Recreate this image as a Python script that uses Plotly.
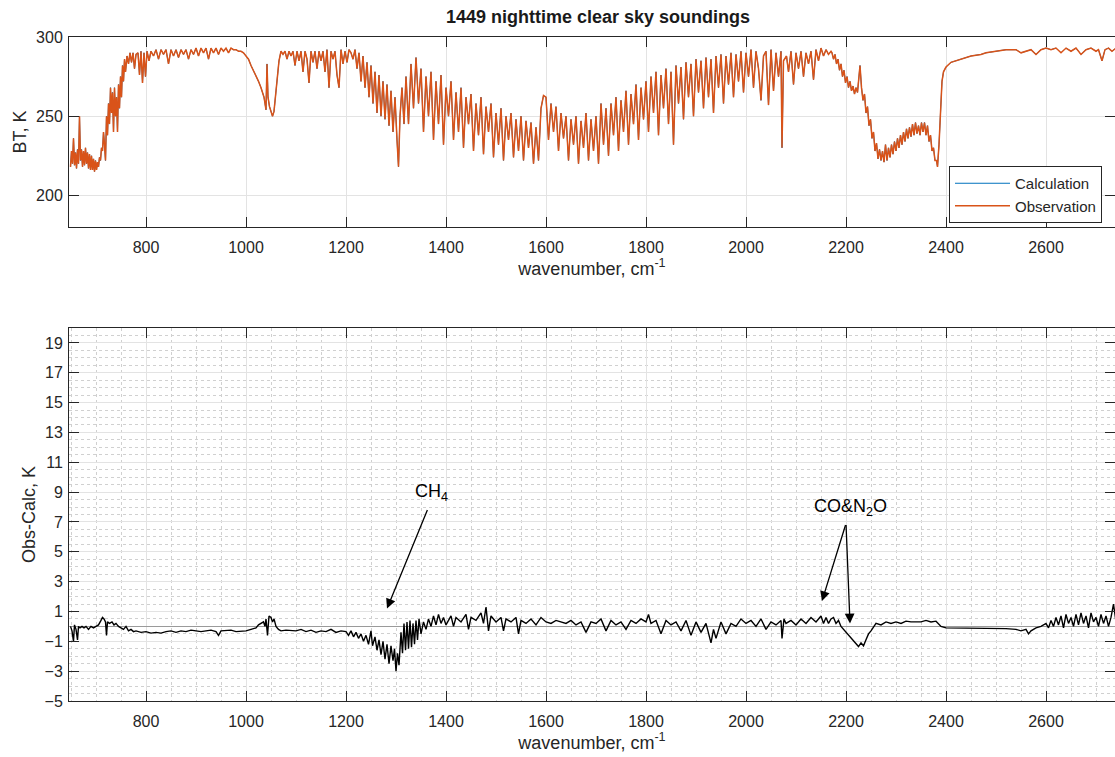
import plotly.graph_objects as go

# ---------------- data ----------------
# Observed brightness temperature spectrum (top panel)
wn_obs = [
    # 649-780 CO2 band edge
    649, 651, 653, 655, 657, 659, 661, 663, 665, 667, 669, 671, 673, 675, 677, 679, 681, 683, 685, 687,
    689, 691, 693, 695, 697, 699, 701, 703, 705, 707, 709, 711, 713, 715, 717, 719, 721, 723, 725, 727,
    729, 731, 733, 735, 737, 739, 741, 743, 745, 747, 749, 751, 753, 755, 757, 759, 762, 765, 768, 771,
    774, 777, 780,
    # 780-1000 window
    784, 787, 790, 793, 796, 799, 802, 806, 810, 815, 820, 825, 830, 835, 840, 845, 850, 855, 860, 865,
    870, 875, 880, 885, 890, 895, 900, 905, 910, 915, 920, 925, 930, 935, 940, 945, 950, 955, 960, 965,
    970, 975, 980, 985, 990, 995, 1000,
    # ozone band
    1005, 1010, 1015, 1020, 1025, 1030, 1033, 1036, 1038, 1040, 1042, 1044, 1047, 1050, 1053, 1056, 1059,
    1062, 1066, 1070,
    # 1070-1210 window
    1074, 1078, 1082, 1086, 1090, 1094, 1098, 1102, 1106, 1110, 1114, 1118, 1122, 1126, 1130, 1134, 1138,
    1142, 1146, 1150, 1154, 1158, 1162, 1166, 1170, 1174, 1178, 1182, 1186, 1190, 1194, 1198, 1202, 1206,
    1210,
    # 1210-1320 CH4 / water edge
    1214, 1218, 1222, 1226, 1230, 1234, 1238, 1242, 1246, 1250, 1254, 1258, 1262, 1266, 1270, 1274, 1278,
    1282, 1286, 1290, 1294, 1298, 1302, 1305, 1308, 1312, 1316,
    # water vapour band
    1320, 1325, 1330, 1335, 1340, 1345, 1350, 1355, 1360, 1365, 1370, 1375, 1380, 1385, 1390, 1395,
    1400, 1405, 1410, 1415, 1420, 1425, 1430, 1435, 1440, 1445, 1450, 1455, 1460, 1465, 1470, 1475,
    1480, 1485, 1490, 1495, 1500, 1505, 1510, 1515, 1520, 1525, 1530, 1535, 1540, 1545, 1550, 1555,
    1560, 1565, 1570, 1575, 1580, 1585,
    1590, 1595, 1600, 1605, 1610, 1615, 1620, 1625, 1630, 1635, 1640, 1645, 1650, 1655, 1660, 1665,
    1670, 1675, 1680, 1685, 1690, 1695, 1700, 1705, 1710, 1715, 1720,
    1725, 1730, 1735, 1740, 1745, 1750, 1755, 1760, 1765, 1770, 1775, 1780, 1785, 1790, 1795, 1800,
    1805, 1810, 1815, 1820, 1825, 1830, 1835, 1840, 1845, 1850, 1855, 1860, 1865, 1870, 1875, 1880,
    1885, 1890, 1895, 1900, 1905, 1910, 1915, 1920, 1925, 1930, 1935, 1940, 1945, 1950, 1955, 1960,
    1965, 1970, 1975, 1980, 1985, 1990, 1995, 2000,
    # 2000-2170
    2005, 2010, 2015, 2020, 2025, 2030, 2035, 2040, 2045, 2050, 2055, 2060, 2065, 2070, 2072, 2075,
    2081, 2085, 2090, 2095, 2100, 2105, 2110, 2115, 2120, 2125, 2130, 2135, 2140, 2145, 2150, 2155,
    2160, 2165, 2170,
    # CO / N2O / CO2 4.3 um band
    2172, 2175, 2178, 2181, 2184, 2187, 2190, 2193, 2196, 2199, 2202, 2205, 2208, 2211, 2214, 2217,
    2220, 2223, 2226, 2228,
    2231, 2234, 2237, 2240, 2243, 2246, 2249, 2252, 2255, 2258, 2261, 2264, 2267, 2270, 2273, 2276,
    2279, 2282, 2285, 2288, 2291, 2294, 2297, 2300, 2303, 2306, 2309, 2312, 2315, 2318, 2321, 2324,
    2327, 2330, 2333, 2336, 2339, 2342, 2345, 2348, 2351, 2354, 2357, 2360, 2363, 2366, 2369, 2372,
    2375, 2378, 2381, 2383, 2386, 2389, 2392, 2395, 2400,
    # shortwave window
    2410, 2420, 2430, 2440, 2450, 2460, 2470, 2480, 2490, 2500, 2510, 2520, 2530, 2540, 2550, 2560,
    2570, 2580, 2590, 2600, 2610, 2620, 2630, 2640, 2650, 2660, 2670, 2680, 2690, 2700, 2705, 2712,
    2718, 2725, 2732, 2740,
]
bt_obs = [
    218, 228, 220, 236, 219, 227, 217, 229, 220, 250, 222, 229, 218, 228, 219, 230, 220, 227, 217, 226,
    216, 225, 216, 223, 215, 222, 216, 221, 218, 224, 222, 230, 228, 240, 232, 222, 250, 238, 258, 245,
    268, 252, 265, 240, 268, 250, 262, 240, 270, 255, 275, 262, 282, 272, 286, 278, 288, 283, 290, 284,
    290, 280, 289,
    290, 276, 291, 271, 290, 275, 291, 285, 291, 288, 292, 286, 292, 289, 292, 283, 292, 288, 292, 287,
    292, 289, 292, 286, 292, 289, 293, 288, 293, 290, 293, 286, 293, 290, 293, 289, 293, 291, 293, 290,
    293, 292, 292, 291, 291, 290, 288,
    286, 282, 279, 276, 272, 268, 265, 262, 258, 254, 283, 262, 256, 252, 250, 253, 262,
    272, 285, 291,
    289, 291, 286, 291, 288, 291, 282, 291, 285, 291, 278, 291, 286, 271, 291, 284, 291,
    280, 291, 285, 291, 278, 292, 268, 291, 286, 291, 276, 268, 292, 283, 291, 284, 292,
    290,
    286, 292, 280, 290, 272, 288, 268, 284, 262, 282, 258, 278, 252, 276, 250, 272, 248,
    270, 244, 266, 240, 262, 235, 218, 250, 268, 245,
    275, 245, 283, 255, 287, 258, 280, 240, 275, 250, 278, 235, 272, 245, 276, 232,
    268, 250, 272, 235, 265, 240, 268, 230, 262, 245, 264, 228, 258, 238, 262, 226,
    256, 240, 258, 224, 252, 232, 255, 222, 250, 235, 252, 224, 248, 228, 250, 222,
    247, 230, 246, 220, 243, 222,
    255, 263, 262, 235, 258, 240, 256, 228, 252, 236, 250, 222, 248, 232, 250, 220,
    247, 230, 252, 222, 248, 228, 250, 220, 258, 232, 255,
    225, 258, 238, 262, 228, 260, 240, 266, 232, 264, 245, 270, 235, 268, 248, 272,
    240, 275, 252, 278, 238, 276, 255, 280, 245, 278, 232, 282, 258, 281, 248, 284,
    262, 283, 250, 286, 265, 285, 255, 287, 262, 286, 252, 288, 268, 289, 258, 288,
    270, 290, 262, 289, 272, 291, 265, 290,
    275, 292, 268, 291, 280, 260, 288, 291, 257, 292, 266, 290, 275, 291, 230, 285,
    288, 278, 291, 270, 290, 280, 291, 275, 290, 283, 291, 273, 292, 285, 293, 288,
    292, 289, 291,
    290, 286, 289, 283, 286, 279, 283, 275, 279, 271, 275, 268, 272, 266, 269, 264,
    268, 265, 275, 282,
    268, 260, 264, 252, 256, 244, 248, 236, 240, 228, 233, 223, 229, 222, 228, 221,
    232, 222, 230, 224, 232, 226, 234, 228, 236, 230, 238, 232, 240, 234, 242, 236,
    243, 237, 245, 238, 246, 239, 244, 238, 246, 240, 246, 238, 244, 234, 238, 228,
    230, 222, 222, 218, 232, 256, 272, 278, 281,
    284, 285, 286, 287, 288, 288.5, 289, 290, 290.5, 291, 291.5, 292, 292, 292, 290, 291,
    292, 289, 292, 293, 292, 293, 290, 293, 291, 293, 289, 292, 293, 291, 292, 285,
    292, 293, 291, 293,
]
# the calculated spectrum is indistinguishable from the observation at this scale
bt_calc = list(bt_obs)

# Observation minus calculation (bottom panel)
wn_diff = [
    649, 652, 655, 657, 660, 663, 665, 668, 672, 676, 680, 685, 690, 695, 700, 705, 710, 713, 716,
    719, 721, 723, 727, 732, 736, 740, 745, 750, 755, 760, 765, 770, 775, 780, 790, 800, 810, 820,
    830, 840, 850, 860, 870, 880, 890, 900, 910, 920, 930, 940, 945, 950, 960, 970, 980, 990, 1000,
    1010, 1020, 1025, 1030, 1035, 1038, 1040, 1043, 1046, 1050, 1053, 1056, 1060, 1065, 1070, 1080,
    1090, 1100, 1110, 1120, 1130, 1140, 1150, 1160, 1170, 1180, 1190, 1200, 1205, 1210, 1215, 1220,
    1225, 1230, 1235, 1240, 1245, 1250, 1253, 1258, 1262, 1266, 1270, 1274, 1278, 1282, 1286, 1290,
    1294, 1297, 1300, 1303, 1306, 1310, 1313, 1316, 1319, 1322, 1325, 1328, 1331, 1334, 1337, 1340,
    1343, 1346, 1350, 1355, 1360, 1365, 1370, 1375, 1380, 1385, 1390, 1395, 1400, 1410, 1415, 1420,
    1430, 1440, 1445, 1450, 1460, 1470, 1475, 1480, 1485, 1490, 1500, 1510, 1515, 1520, 1530, 1540,
    1545, 1550, 1560, 1570, 1580, 1590, 1600, 1610, 1620, 1630, 1640, 1650, 1660, 1670, 1680, 1690,
    1700, 1710, 1720, 1730, 1740, 1750, 1760, 1770, 1780, 1790, 1800, 1805, 1810, 1820, 1830, 1840,
    1850, 1860, 1870, 1880, 1890, 1900, 1910, 1920, 1930, 1935, 1940, 1950, 1960, 1970, 1980, 1990,
    2000, 2010, 2020, 2030, 2040, 2050, 2060, 2070, 2072, 2076, 2080, 2090, 2100, 2110, 2120, 2130,
    2140, 2150, 2155, 2160, 2165, 2170, 2175, 2180, 2185, 2190, 2195, 2200, 2205, 2210, 2215, 2220,
    2225, 2230, 2235, 2240, 2245, 2250, 2255, 2260, 2270, 2280, 2290, 2300, 2310, 2320, 2330, 2340,
    2350, 2360, 2370, 2380, 2385, 2390, 2400, 2420, 2440, 2460, 2480, 2500, 2520, 2540, 2550, 2560,
    2565, 2570, 2580, 2590, 2600, 2605, 2610, 2615, 2620, 2625, 2630, 2635, 2640, 2645, 2650, 2655,
    2660, 2665, 2670, 2675, 2680, 2685, 2690, 2695, 2700, 2705, 2710, 2715, 2720, 2725, 2730, 2735,
    2740,
]
d_diff = [
    0, -0.3, -1.0, 0.1, -0.2, -0.9, 0, -0.1, 0, -0.1, 0, -0.2, 0, -0.1, 0, 0.1, 0.4, 0.6, 0.5,
    0.3, -0.6, 0.3, 0.2, 0.3, 0.1, 0.2, 0, -0.1, -0.2, 0, -0.3, -0.2, -0.35, -0.3, -0.4, -0.35, -0.45, -0.4,
    -0.45, -0.35, -0.3, -0.4, -0.3, -0.35, -0.25, -0.3, -0.35, -0.3, -0.25, -0.35, -0.6, -0.3, -0.3, -0.25, -0.35, -0.3, -0.3,
    -0.2, -0.1, 0.1, 0.2, 0.3, 0.0, 0.5, -0.6, 0.7, 0.6, 0.3, 0.5, 0, -0.2, -0.3, -0.25,
    -0.3, -0.3, -0.2, -0.35, -0.25, -0.4, -0.3, -0.35, -0.2, -0.4, -0.3, -0.35, -0.6, -0.3, -0.7, -0.4,
    -0.8, -0.5, -1.0, -0.6, -1.2, -0.3, -1.3, -0.7, -1.6, -0.9, -1.9, -1.0, -2.2, -1.2, -2.5, -1.3,
    -2.3, -1.5, -3.0, -1.8, -2.6, -0.4, -1.8, 0.2, -1.6, 0.3, -1.5, 0.4, -1.4, 0.2, -1.2, 0.4,
    -0.9, 0.5, -0.5, 0.3, -0.2, 0.5, 0, 0.7, 0.1, 0.8, 0.2, 0.6, 0.1, 0.7, 0, 0.6,
    0.3, 0.8, -0.2, 0.6, 0.4, 0.9, 0.2, 1.3, -0.3, 0.7, 0.3, 0.6, -0.3, 0.5, 0.3, 0.6,
    -0.5, 0.4, 0.2, 0.5, 0.1, 0.6, 0.3, 0.2, 0.4, 0.3, 0.2, 0.4, 0.1, 0.3, -0.4, 0.3,
    0.2, 0.5, -0.3, 0.4, 0.1, 0.3, -0.2, 0.4, 0.2, 0.5, 0.3, 0.8, 0.2, 0.4, -0.5, 0.4,
    0.1, 0.3, -0.3, 0.4, -0.6, 0.3, -0.4, 0.2, -1.1, -0.2, -0.8, 0.3, -0.5, 0.2, 0, 0.5,
    0.2, 0.4, 0, 0.5, -0.2, 0.3, 0.1, 0.4, -0.8, 0.5, 0.2, 0.4, 0.1, 0.5, 0.2, 0.6,
    0.3, 0.7, 0.2, 0.6, 0.2, 0.5, 0.6, 0.2, 0.4, 0, -0.2, -0.4, -0.6, -0.8, -1.0, -1.2,
    -1.35, -1.1, -1.3, -0.9, -0.5, -0.3, 0, 0.2, 0.1, 0.3, 0.2, 0.3, 0.2, 0.35, 0.3, 0.3,
    0.3, 0.4, 0.3, 0.35, 0.2, 0, -0.1, -0.1, -0.1, -0.15, -0.1, -0.15, -0.15, -0.2, -0.3, -0.2,
    -0.5, -0.3, -0.1, 0, 0.2, -0.1, 0.4, 0, 0.6, 0.1, 0.7, -0.1, 0.8, 0.2, 0.6, 0,
    0.8, 0.1, 0.9, 0.2, 0.7, -0.1, 0.9, 0.3, 0.6, 0, 0.8, 0.2, 0.7, 0, 0.6, 1.5,
    0.3,
]
assert len(wn_obs) == len(bt_obs), (len(wn_obs), len(bt_obs))
assert len(wn_diff) == len(d_diff), (len(wn_diff), len(d_diff))

x_ticks = [800, 1000, 1200, 1400, 1600, 1800, 2000, 2200, 2400, 2600]
bt_ticks = [200, 250, 300]
diff_ticks = [-5, -3, -1, 1, 3, 5, 7, 9, 11, 13, 15, 17, 19]

# ---------------- figure ----------------
W, H = 1115, 757
FONT = "Liberation Sans, Arial, Helvetica, sans-serif"
AX = "#262626"
GRID = "#e3e3e3"
TICK_FS = 16
LAB_FS = 18

fig = go.Figure()
fig.add_trace(go.Scatter(x=wn_obs, y=bt_calc, mode="lines", name="Calculation",
                         line=dict(color="#0072BD", width=1), xaxis="x", yaxis="y"))
fig.add_trace(go.Scatter(x=wn_obs, y=bt_obs, mode="lines", name="Observation",
                         line=dict(color="#D95319", width=1.5), xaxis="x", yaxis="y"))
fig.add_trace(go.Scatter(x=wn_diff, y=d_diff, mode="lines", showlegend=False,
                         line=dict(color="black", width=1.4), xaxis="x2", yaxis="y2"))

xdom = [69 / W, 1.0]
top_dom = [1 - 227 / H, 1 - 37 / H]
bot_dom = [1 - 701 / H, 1 - 328 / H]
xr = [646, 2738]

common_x = dict(range=xr, tickvals=x_ticks, ticks="inside", ticklen=10, tickcolor=AX,
                showline=True, linecolor=AX, linewidth=1, mirror="ticks",
                showgrid=True, gridcolor=GRID, gridwidth=1, zeroline=False, automargin=False,
                ticklabelstandoff=6,
                tickfont=dict(family=FONT, size=TICK_FS, color=AX), domain=xdom)

fig.update_layout(
    width=W, height=H,
    margin=dict(l=0, r=0, t=0, b=0, autoexpand=False),
    paper_bgcolor="white", plot_bgcolor="white",
    font=dict(family=FONT, color=AX),
    xaxis=dict(**common_x, anchor="y",
               title=dict(text="wavenumber, cm<sup>-1</sup>", standoff=2,
                          font=dict(family=FONT, size=LAB_FS, color=AX))),
    yaxis=dict(domain=top_dom, range=[180, 300], tickvals=bt_ticks, ticks="inside", ticklen=10,
               tickcolor=AX, showline=True, linecolor=AX, linewidth=1, mirror="ticks",
               showgrid=True, gridcolor=GRID, zeroline=False, anchor="x", automargin=False,
               ticklabelstandoff=2,
               tickfont=dict(family=FONT, size=TICK_FS, color=AX),
               title=dict(text="BT, K", standoff=4, font=dict(family=FONT, size=LAB_FS, color=AX))),
    xaxis2=dict(**common_x, anchor="y2",
                minor=dict(dtick=50, tick0=0, showgrid=True, gridcolor="#d0d0d0",
                           griddash="dot", gridwidth=1, ticks=""),
                title=dict(text="wavenumber, cm<sup>-1</sup>", standoff=2,
                           font=dict(family=FONT, size=LAB_FS, color=AX))),
    yaxis2=dict(domain=bot_dom, range=[-5, 20], tickvals=diff_ticks, ticks="inside", ticklen=10,
                tickcolor=AX, showline=True, linecolor=AX, linewidth=1, mirror="ticks",
                showgrid=True, gridcolor=GRID, anchor="x2", automargin=False,
                ticklabelstandoff=2,
                zeroline=True, zerolinecolor="#9a9a9a", zerolinewidth=1,
                minor=dict(dtick=0.5, tick0=0, showgrid=True, gridcolor="#d0d0d0",
                           griddash="dot", gridwidth=1, ticks=""),
                tickfont=dict(family=FONT, size=TICK_FS, color=AX),
                title=dict(text="Obs-Calc, K", standoff=4, font=dict(family=FONT, size=LAB_FS, color=AX))),
    legend=dict(x=949 / W, y=1 - 166 / H, xanchor="left", yanchor="top",
                bgcolor="white", bordercolor=AX, borderwidth=1,
                font=dict(family=FONT, size=15, color=AX), tracegroupgap=0,
                itemwidth=55),
    showlegend=True,
)

# title
fig.add_annotation(text="<b>1449 nighttime clear sky soundings</b>", xref="paper", yref="paper",
                   x=598 / W, y=1 - 17 / H, showarrow=False, xanchor="center", yanchor="middle",
                   font=dict(family=FONT, size=18, color="#1a1a1a"))

# molecule annotations
fig.add_annotation(text="CH<sub>4</sub>", xref="x2", yref="y2", x=1370, y=9.0, showarrow=False,
                   font=dict(family=FONT, size=18, color="black"))
fig.add_annotation(x=1282, y=1.2, ax=1364, ay=7.9, xref="x2", yref="y2", axref="x2", ayref="y2",
                   showarrow=True, arrowhead=2, arrowsize=1.5, arrowwidth=1.3, arrowcolor="black", text="")
fig.add_annotation(text="CO&amp;N<sub>2</sub>O", xref="x2", yref="y2", x=2208, y=8.0, showarrow=False,
                   font=dict(family=FONT, size=18, color="black"))
fig.add_annotation(x=2152, y=1.7, ax=2200, ay=6.9, xref="x2", yref="y2", axref="x2", ayref="y2",
                   showarrow=True, arrowhead=2, arrowsize=1.5, arrowwidth=1.3, arrowcolor="black", text="")
fig.add_annotation(x=2208, y=0.2, ax=2200, ay=6.9, xref="x2", yref="y2", axref="x2", ayref="y2",
                   showarrow=True, arrowhead=2, arrowsize=1.5, arrowwidth=1.3, arrowcolor="black", text="")

fig.write_html("out.html")
